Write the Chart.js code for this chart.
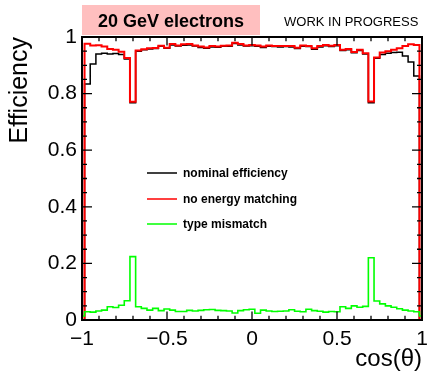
<!DOCTYPE html>
<html>
<head>
<meta charset="utf-8">
<script src="https://cdn.jsdelivr.net/npm/chart.js@4/dist/chart.umd.min.js"></script>
<style>
  html, body { margin: 0; padding: 0; background: #fff; }
  #wrap { width: 427px; height: 374px; position: relative; }
</style>
</head>
<body>
<div id="wrap"><canvas id="c" width="427" height="374"></canvas></div>
<script>
// ---- histogram binning (61 bins; outer bins partly outside the -1..1 frame) ----
const histLow = -1.0184;
const histHigh = 1.0184;
const nBins = 61;

// ---- series values (one per bin) ----
const nominalEff = [
  0,
  0.834, 0.905, 0.940, 0.943, 0.940, 0.942, 0.938, 0.922, 0.768,
  0.950, 0.955, 0.958, 0.959, 0.967, 0.960, 0.972, 0.968, 0.971, 0.972,
  0.968, 0.963, 0.960, 0.965, 0.964, 0.967, 0.967, 0.977, 0.972, 0.968,
  0.969, 0.967, 0.963, 0.967, 0.966, 0.965, 0.966, 0.965, 0.959, 0.967,
  0.966, 0.957, 0.965, 0.969, 0.966, 0.969, 0.952, 0.955, 0.944, 0.952,
  0.940, 0.768, 0.925, 0.938, 0.943, 0.945, 0.946, 0.933, 0.912, 0.862,
  0
];
const noEnergyMatching = [
  0,
  0.976, 0.970, 0.971, 0.966, 0.958, 0.955, 0.948, 0.926, 0.771,
  0.952, 0.957, 0.960, 0.961, 0.969, 0.962, 0.975, 0.970, 0.974, 0.975,
  0.970, 0.966, 0.963, 0.968, 0.966, 0.969, 0.970, 0.980, 0.975, 0.970,
  0.972, 0.970, 0.966, 0.970, 0.968, 0.968, 0.968, 0.968, 0.962, 0.970,
  0.968, 0.960, 0.968, 0.972, 0.969, 0.972, 0.955, 0.958, 0.947, 0.955,
  0.943, 0.772, 0.928, 0.945, 0.950, 0.955, 0.960, 0.968, 0.974, 0.972,
  0
];
const typeMismatch = [
  0.014,
  0.029, 0.028, 0.032, 0.035, 0.047, 0.044, 0.052, 0.068, 0.224,
  0.047, 0.041, 0.035, 0.041, 0.033, 0.039, 0.035, 0.030, 0.030, 0.034,
  0.032, 0.034, 0.036, 0.037, 0.034, 0.033, 0.032, 0.025, 0.033, 0.036,
  0.038, 0.024, 0.035, 0.032, 0.030, 0.031, 0.032, 0.036, 0.031, 0.029,
  0.038, 0.033, 0.031, 0.028, 0.030, 0.029, 0.047, 0.041, 0.050, 0.045,
  0.048, 0.220, 0.067, 0.057, 0.050, 0.045, 0.040, 0.035, 0.032, 0.029,
  0.014
];

// ---- labels / ticks ----
const seriesLabels = ['nominal efficiency', 'no energy matching', 'type mismatch'];
const xMajorTicks = [-1, -0.5, 0, 0.5, 1];
const yMajorTicks = [0, 0.2, 0.4, 0.6, 0.8, 1];
const xMinorStep = 0.1;
const yMinorStep = 0.05;
const titleText = '20 GeV electrons';
const statusText = 'WORK IN PROGRESS';
const xTitle = 'cos(\u03b8)';
const yTitle = 'Efficiency';

const FONT = '"Liberation Sans", Arial, Helvetica, sans-serif';

// bin edges -> step points
const binWidth = (histHigh - histLow) / nBins;
function stepPoints(vals) {
  const pts = vals.map((v, i) => ({ x: histLow + i * binWidth, y: v }));
  pts.push({ x: histLow + vals.length * binWidth, y: vals[vals.length - 1] });
  return pts;
}

function fmt(v) {
  const s = String(Math.round(v * 100) / 100);
  return s.replace('-', '\u2212');
}

const decorPlugin = {
  id: 'decor',
  afterDatasetsDraw(chart) {
    const ctx = chart.ctx;
    const a = chart.chartArea;
    const xs = chart.scales.x, ys = chart.scales.y;
    ctx.save();
    ctx.strokeStyle = '#000';
    // ticks
    ctx.lineWidth = 1.3;
    ctx.beginPath();
    const xMaj = 8.5, xMin = 4.25, yMaj = 10, yMin = 5;
    for (let v = -1; v <= 1.0001; v += xMinorStep) {
      const vv = Math.round(v * 100) / 100;
      const isMaj = xMajorTicks.some(t => Math.abs(t - vv) < 1e-6);
      const L = isMaj ? xMaj : xMin;
      const px = xs.getPixelForValue(vv);
      ctx.moveTo(px, a.bottom); ctx.lineTo(px, a.bottom - L);
      ctx.moveTo(px, a.top); ctx.lineTo(px, a.top + L);
    }
    for (let v = 0; v <= 1.0001; v += yMinorStep) {
      const vv = Math.round(v * 100) / 100;
      const isMaj = yMajorTicks.some(t => Math.abs(t - vv) < 1e-6);
      const L = isMaj ? yMaj : yMin;
      const py = ys.getPixelForValue(vv);
      ctx.moveTo(a.left, py); ctx.lineTo(a.left + L, py);
      ctx.moveTo(a.right, py); ctx.lineTo(a.right - L, py);
    }
    ctx.stroke();
    // frame
    ctx.lineWidth = 2;
    ctx.strokeRect(a.left, a.top, a.right - a.left, a.bottom - a.top);

    // legend
    const rows = [173, 199, 224];
    chart.data.datasets.forEach((ds, i) => {
      const y = rows[i];
      ctx.strokeStyle = ds.borderColor;
      ctx.lineWidth = 1.5;
      ctx.beginPath(); ctx.moveTo(147, y); ctx.lineTo(177, y); ctx.stroke();
      ctx.fillStyle = '#000';
      ctx.font = 'bold 12px ' + FONT;
      ctx.textAlign = 'left'; ctx.textBaseline = 'middle';
      ctx.fillText(ds.label, 183, y + 0.5);
    });
    ctx.restore();
  },
  afterDraw(chart) {
    const ctx = chart.ctx;
    const a = chart.chartArea;
    ctx.save();
    // title box
    ctx.fillStyle = '#ffbfbf';
    ctx.fillRect(82, 5, 178, 30);
    ctx.fillStyle = '#000';
    ctx.font = 'bold 18px ' + FONT;
    ctx.textAlign = 'center'; ctx.textBaseline = 'alphabetic';
    ctx.fillText(titleText, 171, 27);
    ctx.font = '13px ' + FONT;
    ctx.textAlign = 'left';
    ctx.fillText(statusText, 284, 26);
    // axis titles
    ctx.font = '24px ' + FONT;
    ctx.textAlign = 'right';
    ctx.fillText(xTitle, a.right, 366);
    ctx.font = '25px ' + FONT;
    ctx.translate(27, a.top);
    ctx.rotate(-Math.PI / 2);
    ctx.textAlign = 'right';
    ctx.fillText(yTitle, 0, 0);
    ctx.restore();
  }
};

const chart = new Chart(document.getElementById('c'), {
  type: 'line',
  data: {
    datasets: [
      { label: seriesLabels[0], data: stepPoints(nominalEff), borderColor: '#000000', borderWidth: 1.5, stepped: 'before', pointRadius: 0, fill: false, order: 3 },
      { label: seriesLabels[1], data: stepPoints(noEnergyMatching), borderColor: '#ff0000', borderWidth: 2, stepped: 'before', pointRadius: 0, fill: false, order: 2 },
      { label: seriesLabels[2], data: stepPoints(typeMismatch), borderColor: '#00ff00', borderWidth: 1.6, stepped: 'before', pointRadius: 0, fill: false, order: 1 }
    ]
  },
  options: {
    responsive: false,
    animation: false,
    devicePixelRatio: 1,
    layout: { padding: { left: 0, right: 5, top: 37, bottom: 0 } },
    plugins: { legend: { display: false }, tooltip: { enabled: false }, title: { display: false } },
    elements: { line: { tension: 0 } },
    scales: {
      x: {
        type: 'linear', min: -1, max: 1, position: 'bottom',
        afterBuildTicks: s => { s.ticks = xMajorTicks.map(v => ({ value: v })); },
        afterFit: s => { s.height = 54; s.paddingLeft = 0; s.paddingRight = 0; },
        grid: { display: false, drawTicks: false },
        border: { display: false },
        ticks: { font: { family: FONT, size: 21 }, color: '#000', padding: 7, maxRotation: 0, autoSkip: false, callback: v => fmt(v) }
      },
      y: {
        type: 'linear', min: 0, max: 1, position: 'left',
        afterBuildTicks: s => { s.ticks = yMajorTicks.map(v => ({ value: v })); },
        afterFit: s => { s.width = 82; s.paddingTop = 0; s.paddingBottom = 0; },
        grid: { display: false, drawTicks: false },
        border: { display: false },
        ticks: { font: { family: FONT, size: 21 }, color: '#000', padding: 5, autoSkip: false, callback: v => fmt(v) }
      }
    }
  },
  plugins: [decorPlugin]
});
</script>
</body>
</html>
